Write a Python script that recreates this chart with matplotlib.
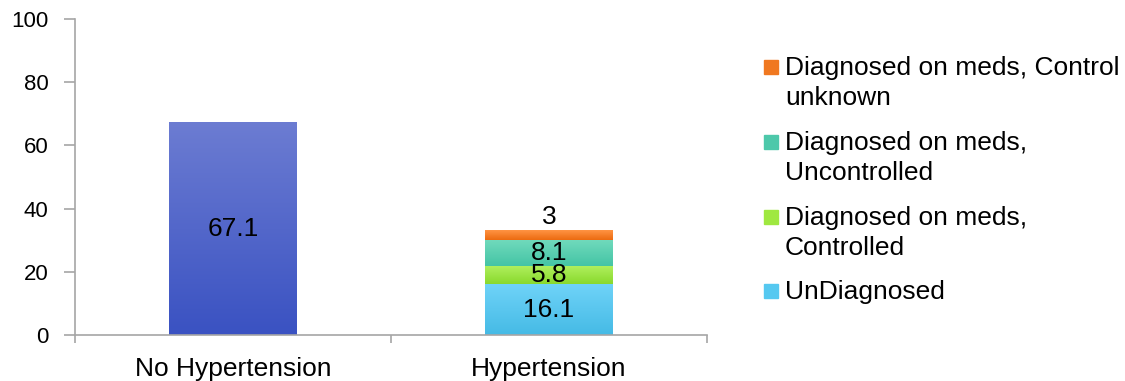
import numpy as np
import matplotlib
matplotlib.use('Agg')
import matplotlib.pyplot as plt
from matplotlib.colors import LinearSegmentedColormap
from matplotlib.patches import Rectangle

plt.rcParams['font.family'] = ['Liberation Sans', 'DejaVu Sans']

groups = ["No Hypertension", "Hypertension"]
no_htn = [67.1, 0]
series = ["UnDiagnosed", "Diagnosed on meds,\nControlled",
          "Diagnosed on meds,\nUncontrolled", "Diagnosed on meds, Control\nunknown"]
htn_parts = [16.1, 5.8, 8.1, 3]

# (top colour, bottom colour) for the shaded fills
blue_shade = ("#6C7CD2", "#3A52C2")
part_shades = [("#6FD3F8", "#45BAE5"), ("#B0F060", "#8AD92C"),
               ("#70DABC", "#44C4A5"), ("#FF9443", "#EC6A10")]
part_swatch = ["#55C8F0", "#9FE840", "#4DC8AA", "#F07820"]

FS = 19

fig = plt.figure(figsize=(11.25, 3.81), dpi=100)
ax = fig.add_axes([75/1125, 1-335/381, (707-75)/1125, (335-19)/381])

def shade(bar, top, bottom):
    x, y = bar.get_x(), bar.get_y()
    w, h = bar.get_width(), bar.get_height()
    cmap = LinearSegmentedColormap.from_list("s", [bottom, top])
    grad = np.linspace(0, 1, 256).reshape(-1, 1)
    ax.imshow(grad, cmap=cmap, origin="lower", aspect="auto",
              extent=[x, x + w, y, y + h], zorder=2)
    bar.set_facecolor("none")

width = 0.405
b0 = ax.bar([0], [no_htn[0]], width=width, color=blue_shade[1], zorder=1)[0]
shade(b0, *blue_shade)
ax.text(0, no_htn[0] / 2, f"{no_htn[0]:g}", ha="center", va="center", fontsize=FS, zorder=5)

bottom = 0
for i, v in enumerate(htn_parts):
    b = ax.bar([1], [v], bottom=bottom, width=width, color=part_shades[i][1], zorder=1)[0]
    shade(b, *part_shades[i])
    if i == len(htn_parts) - 1:
        ax.text(1, bottom + v + 0.6, f"{v:g}", ha="center", va="bottom", fontsize=FS, zorder=5)
    else:
        ax.text(1, bottom + v / 2, f"{v:g}", ha="center", va="center", fontsize=FS, zorder=5)
    bottom += v

ax.set_xlim(-0.5, 1.5)
ax.set_ylim(0, 100)
ax.set_yticks([0, 20, 40, 60, 80, 100])
ax.set_xticks([0, 1])
ax.set_xticklabels(groups)
ax.set_xticks([-0.5, 0.5, 1.5], minor=True)
ax.tick_params(axis="x", which="major", length=0, pad=16, labelsize=FS)
ax.tick_params(axis="x", which="minor", length=6, color="#a6a6a6", width=1.2)
ax.tick_params(axis="y", length=8, color="#a6a6a6", width=1.2, pad=11, labelsize=16)
for s in ["top", "right"]:
    ax.spines[s].set_visible(False)
for s in ["left", "bottom"]:
    ax.spines[s].set_color("#a6a6a6")
    ax.spines[s].set_linewidth(1.2)

# legend, top entry first; first-line baselines in pixels from the top
fw, fh = 1125, 381
baselines = [75, 150, 225, 299]
line_px = 30
for k, i in enumerate(reversed(range(len(series)))):
    y = baselines[k]
    fig.patches.append(Rectangle((764/fw, 1 - (y - 1)/fh), 14/fw, 14/fh,
                                 transform=fig.transFigure, color=part_swatch[i]))
    lines = series[i].split("\n")
    for j, line in enumerate(lines):
        fig.text(785/fw, 1 - (y + j * line_px)/fh, line, ha="left", va="baseline",
                 fontsize=FS)

fig.savefig("out.png", dpi=100)
